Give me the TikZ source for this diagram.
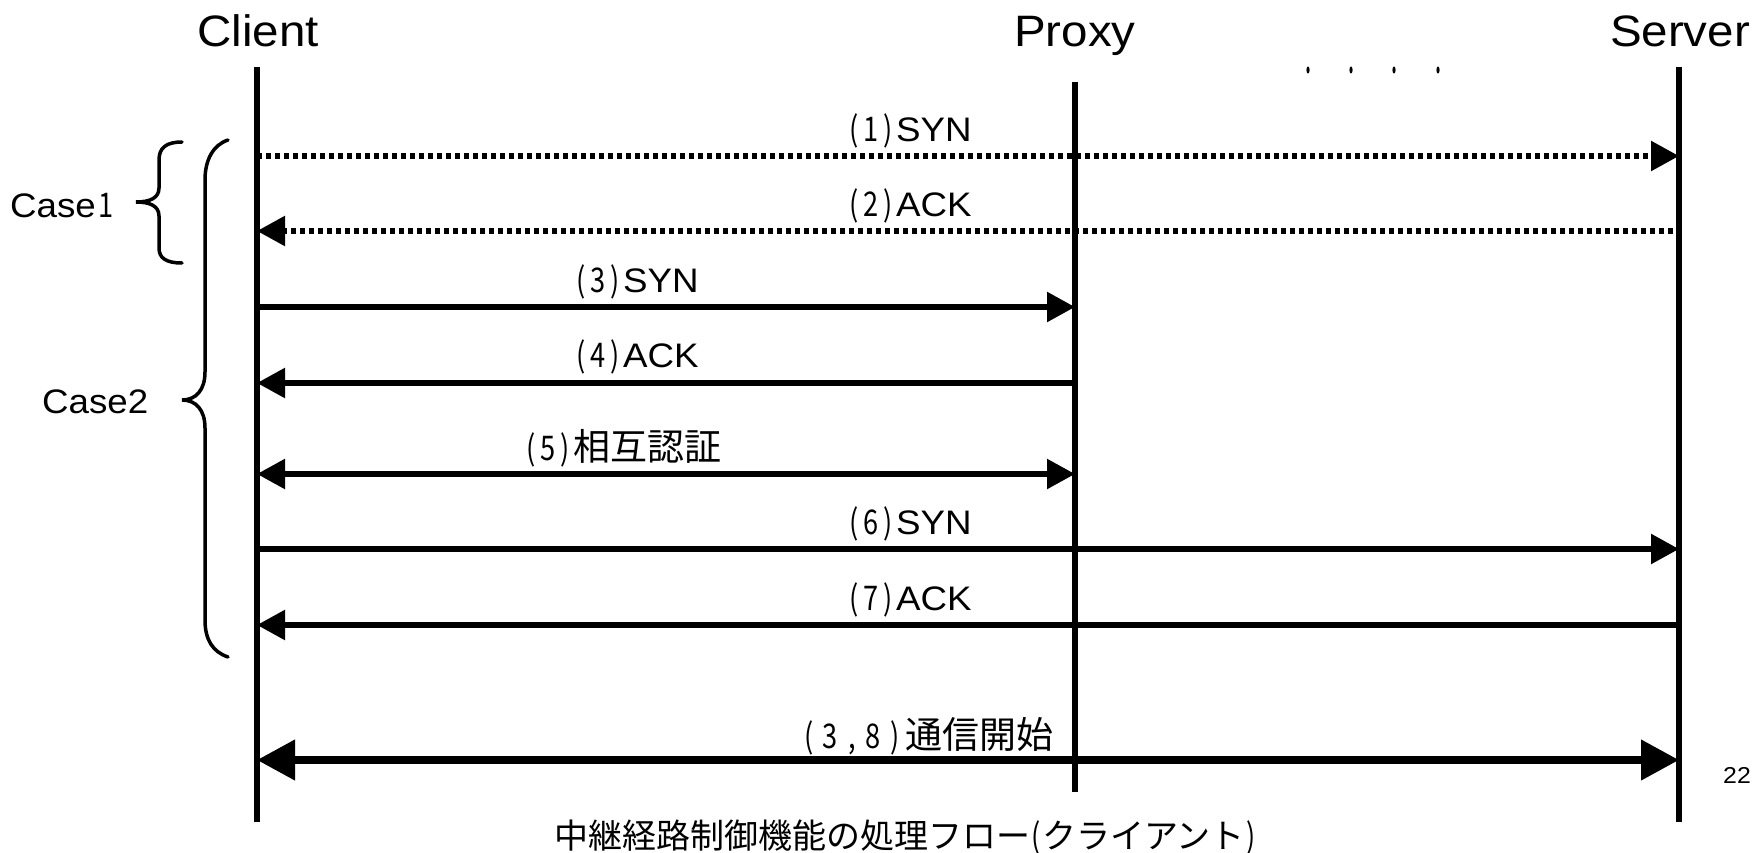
\documentclass[tikz,border=0pt]{standalone}
\usepackage{fontspec}
\setmainfont{Liberation Sans}[FakeStretch=1.08]
\newfontfamily\jp{Noto Sans CJK JP}
\newfontfamily\jpn[FakeStretch=0.8]{Noto Sans CJK JP}
\usetikzlibrary{arrows.meta}
\newcommand\hw[2][17pt]{\makebox[#1]{\jpn #2}}
\newcommand\kj[1]{{\jp\fontsize{37}{40}\selectfont #1}}
\tikzset{
  life/.style={line width=5.5pt},
  msg/.style={line width=5.5pt, -{Triangle[length=28pt,width=29pt]}},
  msgb/.style={line width=5.5pt, {Triangle[length=28pt,width=29pt]}-{Triangle[length=28pt,width=29pt]}},
  dotmsg/.style={msg, dash pattern=on 5pt off 4pt},
  bigmsg/.style={line width=7.5pt, {Triangle[length=38pt,width=39pt]}-{Triangle[length=38pt,width=39pt]}},
  lbl/.style={anchor=base west, inner sep=0pt, font=\fontsize{34}{38}\selectfont},
  head/.style={anchor=base, inner sep=0pt, font=\fontsize{44}{50}\selectfont},
  casetxt/.style={anchor=base west, inner sep=0pt, font=\fontsize{34}{40}\selectfont},
  bracepath/.style={line width=3.5pt, line cap=round}
}
\begin{document}
\begin{tikzpicture}[x=1pt,y=-1pt]
\useasboundingbox (0,0) rectangle (1755,853);

% headers
\node[head] (hc) at (258,47) {Client};
\node[head] (hp) at (1075,47) {Proxy};
\node[head] (hs) at (1680,47) {Server};

% lifelines
\coordinate (ct) at (257,67);  \coordinate (cb) at (257,822);
\coordinate (pt) at (1075,82); \coordinate (pb) at (1075,792);
\coordinate (st) at (1679,67); \coordinate (sb) at (1679,822);
\draw[life] (ct) -- (cb);
\draw[life] (pt) -- (pb);
\draw[life] (st) -- (sb);

% small marks
\foreach \xx in {1308,1351,1394,1438}
  \fill (\xx,70) ellipse [x radius=1.6pt, y radius=3.5pt];

% message end points
\coordinate (c1) at (257,156); \coordinate (s1) at (1679,156);
\coordinate (c2) at (257,231); \coordinate (s2) at (1673,231);
\coordinate (c3) at (257,307); \coordinate (p3) at (1075,307);
\coordinate (c4) at (257,383); \coordinate (p4) at (1075,383);
\coordinate (c5) at (257,474); \coordinate (p5) at (1075,474);
\coordinate (c6) at (257,549); \coordinate (s6) at (1679,549);
\coordinate (c7) at (257,625); \coordinate (s7) at (1679,625);
\coordinate (c8) at (257,760); \coordinate (s8) at (1679,760);

\draw[dotmsg] (c1) -- (s1);
\draw[dotmsg] (s2) -- (c2);
\draw[msg] (c3) -- (p3);
\draw[msg] (p4) -- (c4);
\draw[msgb] (c5) -- (p5);
\draw[msg] (c6) -- (s6);
\draw[msg] (s7) -- (c7);
\draw[bigmsg] (c8) -- (s8);

% labels
\node[lbl] (l1) at (845,142) {\hw{(}\hw{1}\hw{)}SYN};
\node[lbl] (l2) at (845,216) {\hw{(}\hw{2}\hw{)}ACK};
\node[lbl] (l3) at (572,292) {\hw{(}\hw{3}\hw{)}SYN};
\node[lbl] (l4) at (572,367) {\hw{(}\hw{4}\hw{)}ACK};
\node[lbl] (l5) at (522,460) {\hw{(}\hw{5}\hw{)}\kj{相互認証}};
\node[lbl] (l6) at (845,534) {\hw{(}\hw{6}\hw{)}SYN};
\node[lbl] (l7) at (845,610) {\hw{(}\hw{7}\hw{)}ACK};
\node[lbl] (l8) at (798,748) {\hw[21.5pt]{(}\hw[21.5pt]{3}\hw[21.5pt]{,}\hw[21.5pt]{8}\hw[21.5pt]{)}\kj{通信開始}};

% braces
\draw[bracepath] (182,142) .. controls (166,142) and (159,148) .. (159,160)
  -- (159,188) .. controls (159,198) and (150,202) .. (136,202)
  .. controls (150,202) and (159,206) .. (159,216)
  -- (159,248) .. controls (159,258) and (166,263) .. (182,263);
\draw[bracepath] (228,140) .. controls (213,145) and (205,160) .. (205,180)
  -- (205,372) .. controls (205,390) and (196,400) .. (182,400)
  .. controls (196,400) and (205,410) .. (205,428)
  -- (205,620) .. controls (205,640) and (213,652) .. (228,657);

\node[casetxt] (case1) at (10,218) {Case\makebox[20pt]{\jpn 1}};
\node[casetxt] (case2) at (42,413) {Case2};

% page number
\node[anchor=base west, inner sep=0pt, font=\fontsize{23}{26}\selectfont] (pg) at (1723,783) {22};

% caption
\node[anchor=base west, inner sep=0pt] (cap) at (554,848)
  {\jp\fontsize{34}{38}\selectfont 中継経路制御機能の処理フロー\makebox[12pt]{\jpn (}クライアント\makebox[12pt]{\jpn )}};
\end{tikzpicture}
\end{document}
